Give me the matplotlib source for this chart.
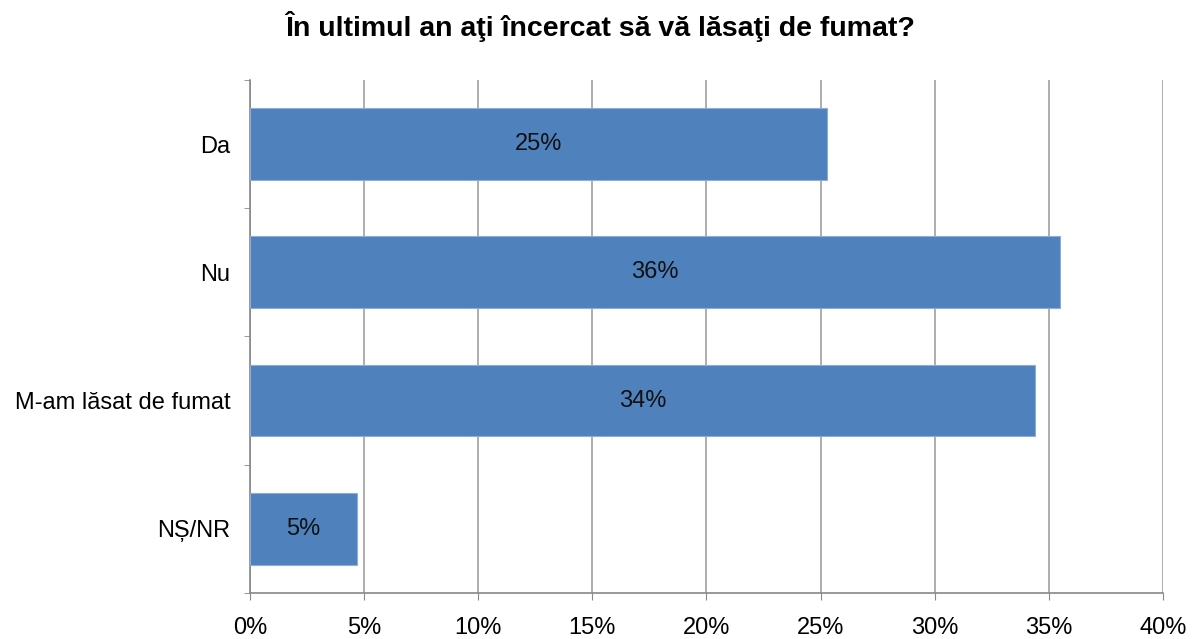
import matplotlib.pyplot as plt
from matplotlib.ticker import FixedLocator

plt.rcParams['font.family'] = ['Liberation Sans', 'DejaVu Sans']

# -- Data
categories = ["Da", "Nu", "M-am lăsat de fumat", "NȘ/NR"]
values = [25.3, 35.5, 34.4, 4.7]
value_labels = ["25%", "36%", "34%", "5%"]
x_ticks = [0, 5, 10, 15, 20, 25, 30, 35, 40]
x_tick_labels = ["0%", "5%", "10%", "15%", "20%", "25%", "30%", "35%", "40%"]

fig = plt.figure(figsize=(11.92, 6.39), dpi=100)
ax = fig.add_axes([0.2097, 0.072, 0.766, 0.803])

ypos = list(range(len(categories)))
bars = ax.barh(ypos, values, height=0.56, color="#4F81BD", edgecolor="#8EACD6", linewidth=0.8, zorder=3)

# value labels in the middle of each bar
for bar, lab in zip(bars, value_labels):
    ax.text(bar.get_width() / 2, bar.get_y() + bar.get_height() / 2, lab,
            ha="center", va="center", fontsize=17, color="#111111", zorder=4)

ax.set_xlim(0, 40)
ax.set_ylim(len(categories) - 0.5, -0.5)
ax.set_xticks(x_ticks)
ax.set_xticklabels(x_tick_labels, fontsize=17)
ax.set_yticks(ypos)
ax.set_yticklabels(categories, fontsize=17)
ax.yaxis.set_minor_locator(FixedLocator([i - 0.5 for i in range(len(categories) + 1)]))

ax.tick_params(axis="y", which="major", length=0, pad=14)
ax.tick_params(axis="y", which="minor", length=4.3, color="#888888", direction="out")
ax.tick_params(axis="x", length=5, color="#888888", pad=12.5)

ax.grid(axis="x", color="#a0a0a0", linewidth=1.2, zorder=0)
for side in ["top", "right"]:
    ax.spines[side].set_visible(False)
for side in ["left", "bottom"]:
    ax.spines[side].set_color("#888888")
    ax.spines[side].set_linewidth(1.2)

fig.text(0.503, 0.959, "În ultimul an aţi încercat să vă lăsaţi de fumat?",
         ha="center", va="center", fontsize=20.5, fontweight="bold")

fig.savefig("out.png", dpi=100)
